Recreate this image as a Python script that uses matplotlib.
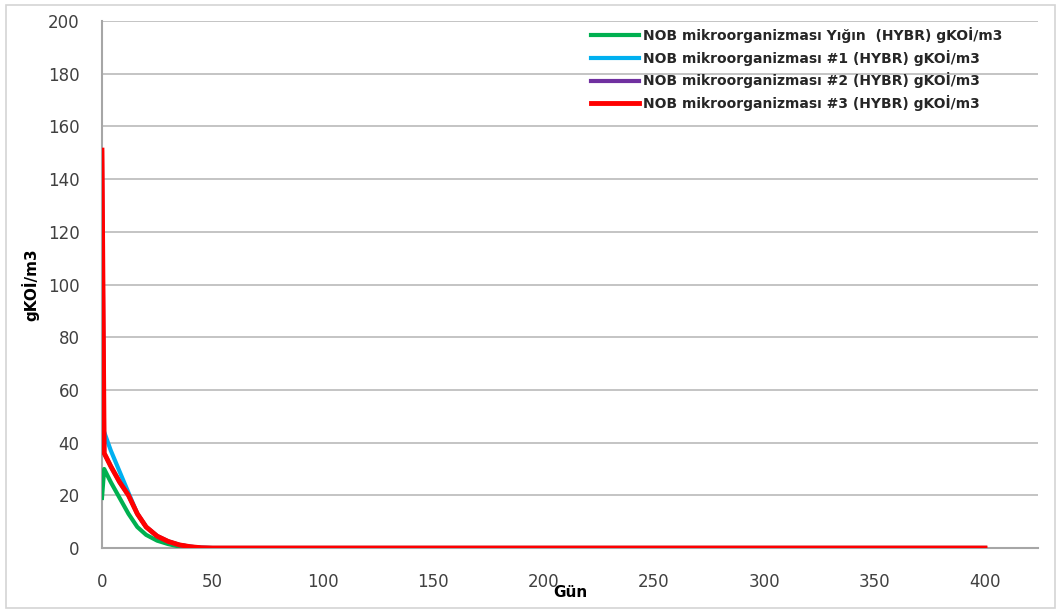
import matplotlib.pyplot as plt
from matplotlib.patches import Rectangle

# Gün (days) and NOB concentrations in gKOİ/m3
gun = [0, 1, 4, 8, 12, 16, 20, 25, 30, 35, 40, 45, 50, 100, 150, 200, 250, 300, 350, 400]
yigin = [19, 30, 25, 19, 13, 8, 5, 2.8, 1.5, 0.6, 0.2, 0.05, 0, 0, 0, 0, 0, 0, 0, 0]
nob1 = [37, 44, 37, 29, 21, 13, 8, 4.5, 2.5, 1.2, 0.5, 0.1, 0, 0, 0, 0, 0, 0, 0, 0]
nob2 = [150, 36, 31, 25, 20, 13, 8, 4.5, 2.5, 1.2, 0.5, 0.1, 0, 0, 0, 0, 0, 0, 0, 0]
nob3 = [151, 36, 31, 25, 20, 13, 8, 4.5, 2.5, 1.2, 0.5, 0.1, 0, 0, 0, 0, 0, 0, 0, 0]

labels = [
    "NOB mikroorganizması Yığın  (HYBR) gKOİ/m3",
    "NOB mikroorganizması #1 (HYBR) gKOİ/m3",
    "NOB mikroorganizması #2 (HYBR) gKOİ/m3",
    "NOB mikroorganizması #3 (HYBR) gKOİ/m3",
]
colors = ["#00B050", "#00B0F0", "#7030A0", "#FF0000"]

plt.rcParams["font.family"] = ["DejaVu Sans"]

fig = plt.figure(figsize=(10.6, 6.1), dpi=100)
ax = fig.add_axes([0.0962, 0.1016, 0.883, 0.864])

fig.patches.append(Rectangle((0.006, 0.004), 0.989, 0.988, transform=fig.transFigure,
                             fill=False, edgecolor="#d4d4d4", linewidth=1.2))

series = [yigin, nob1, nob2, nob3]
widths = [3, 3, 3, 3.5]
for vals, lab, col, lw in zip(series, labels, colors, widths):
    ax.plot(gun, vals, color=col, linewidth=lw, label=lab, solid_joinstyle="round",
            zorder=3)

ax.set_xlim(0, 424)
ax.set_ylim(0, 200)
ax.set_xticks(range(0, 401, 50))
ax.set_yticks(range(0, 201, 20))
ax.grid(axis="y", color="#bfbfbf", linewidth=1.3)
ax.set_axisbelow(True)
ax.tick_params(length=0, labelsize=12, labelcolor="#404040")
ax.tick_params(axis="x", pad=18)
ax.tick_params(axis="y", pad=16)

for s in ["top", "right"]:
    ax.spines[s].set_visible(False)
for s in ["left", "bottom"]:
    ax.spines[s].set_color("#a6a6a6")
    ax.spines[s].set_linewidth(1.5)
    ax.spines[s].set_zorder(2)

ax.set_xlabel("Gün", fontsize=11, fontweight="bold", labelpad=-4)
ax.set_ylabel("gKOİ/m3", fontsize=11, fontweight="bold", labelpad=6)

leg = ax.legend(loc="upper right", bbox_to_anchor=(0.975, 1.012), frameon=False,
                prop={"size": 10, "weight": "bold"}, handlelength=3.4,
                handletextpad=0.3, labelspacing=0.48)
for t in leg.get_texts():
    t.set_color("#262626")

fig.savefig("out.png", dpi=100)
